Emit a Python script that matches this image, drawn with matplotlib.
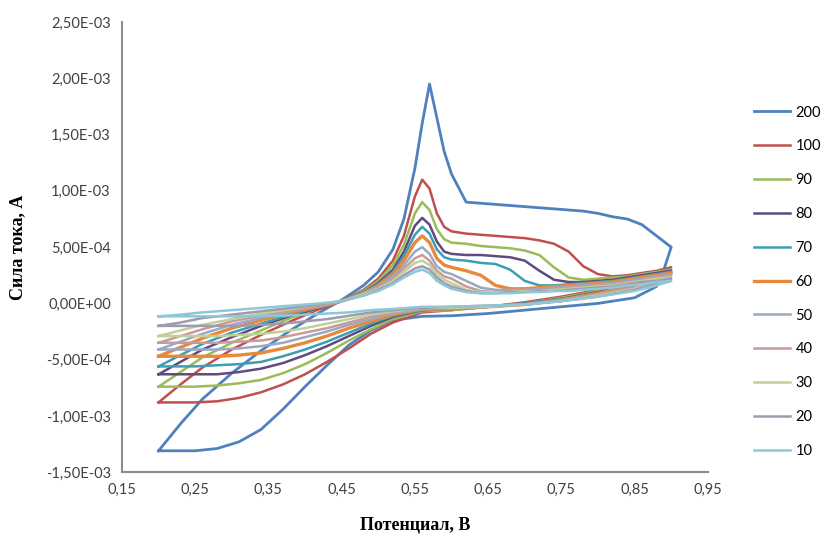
import numpy as np
import matplotlib
matplotlib.use("Agg")
from matplotlib import pyplot as plt
from matplotlib.ticker import FixedLocator, FuncFormatter

# scan rates (legend labels)
labels = ['200', '100', '90', '80', '70', '60', '50', '40', '30', '20', '10']
colors = ['#4F81BD', '#C0504D', '#9BBB59', '#5F4B80', '#3D9DB5', '#E8893A',
          '#98A9C4', '#C99A9A', '#BFD09A', '#A09AAE', '#8EC8D8']
widths = [2.0, 1.8, 1.8, 1.8, 1.8, 2.4, 1.8, 1.8, 1.8, 1.8, 1.8]

# forward sweep, potential in V, current in units of 1e-4 A
E_fwd = [0.20, 0.23, 0.26, 0.30, 0.34, 0.38, 0.42, 0.45, 0.48, 0.50, 0.52, 0.535,
         0.55, 0.56, 0.57, 0.58, 0.59, 0.60, 0.62, 0.64, 0.66, 0.68, 0.70, 0.72,
         0.74, 0.76, 0.78, 0.80, 0.82, 0.84, 0.86, 0.88, 0.90]
I_fwd = [
    [-13.1, -10.7, -8.5, -6.2, -4.2, -2.4, -0.8, 0.3, 1.6, 2.8, 4.8, 7.5, 12.0, 16.0, 19.5, 16.5, 13.5, 11.5, 9.0,
     8.9, 8.8, 8.7, 8.6, 8.5, 8.4, 8.3, 8.2, 8.0, 7.7, 7.5, 7.0, 6.0, 5.0],
    [-8.8, -7.2, -5.7, -4.1, -2.8, -1.6, -0.5, 0.2, 1.2, 2.2, 3.8, 6.0, 9.5, 11.0, 10.2, 8.0, 6.8, 6.4, 6.2,
     6.1, 6.0, 5.9, 5.8, 5.6, 5.3, 4.6, 3.3, 2.6, 2.4, 2.5, 2.7, 2.9, 3.2],
    [-7.4, -6.1, -4.8, -3.5, -2.4, -1.3, -0.4, 0.2, 1.1, 2.0, 3.4, 5.2, 8.0, 9.0, 8.3, 6.6, 5.7, 5.4, 5.3,
     5.1, 5.0, 4.9, 4.7, 4.3, 3.2, 2.3, 2.1, 2.2, 2.3, 2.4, 2.6, 2.8, 3.0],
    [-6.3, -5.2, -4.1, -3.0, -2.0, -1.1, -0.4, 0.2, 1.0, 1.8, 3.0, 4.6, 6.9, 7.6, 7.0, 5.5, 4.6, 4.4, 4.3,
     4.3, 4.2, 4.1, 3.8, 2.9, 2.1, 1.9, 1.9, 2.0, 2.1, 2.3, 2.5, 2.7, 2.9],
    [-5.6, -4.6, -3.6, -2.6, -1.8, -1.0, -0.3, 0.2, 1.0, 1.7, 2.8, 4.2, 6.1, 6.8, 6.2, 4.8, 4.1, 3.9, 3.8,
     3.6, 3.5, 3.0, 2.0, 1.6, 1.6, 1.7, 1.8, 1.9, 2.0, 2.2, 2.4, 2.6, 2.8],
    [-4.7, -3.9, -3.1, -2.2, -1.5, -0.8, -0.3, 0.2, 0.9, 1.6, 2.6, 3.8, 5.4, 6.0, 5.4, 4.0, 3.4, 3.2, 2.9,
     2.5, 1.6, 1.3, 1.3, 1.4, 1.5, 1.6, 1.7, 1.8, 1.9, 2.1, 2.3, 2.5, 2.7],
    [-4.1, -3.4, -2.7, -1.9, -1.3, -0.7, -0.2, 0.2, 0.9, 1.5, 2.4, 3.4, 4.6, 5.0, 4.4, 3.3, 2.8, 2.6, 2.0,
     1.4, 1.2, 1.2, 1.2, 1.3, 1.4, 1.5, 1.6, 1.7, 1.8, 2.0, 2.2, 2.4, 2.6],
    [-3.5, -2.9, -2.3, -1.6, -1.1, -0.6, -0.2, 0.2, 0.8, 1.4, 2.2, 3.1, 4.0, 4.3, 3.8, 2.9, 2.4, 2.2, 1.5,
     1.1, 1.0, 1.1, 1.1, 1.2, 1.3, 1.4, 1.5, 1.6, 1.7, 1.9, 2.1, 2.3, 2.5],
    [-2.9, -2.4, -1.9, -1.4, -0.9, -0.5, -0.1, 0.2, 0.8, 1.3, 2.0, 2.8, 3.6, 3.8, 3.4, 2.6, 2.1, 1.8, 1.2,
     1.0, 1.0, 1.0, 1.1, 1.1, 1.2, 1.3, 1.4, 1.5, 1.6, 1.8, 2.0, 2.2, 2.3],
    [-2.0, -1.7, -1.3, -1.0, -0.7, -0.4, -0.1, 0.2, 0.7, 1.2, 1.8, 2.5, 3.1, 3.3, 3.0, 2.3, 1.8, 1.5, 1.1,
     0.9, 0.9, 1.0, 1.0, 1.1, 1.1, 1.2, 1.3, 1.4, 1.5, 1.7, 1.9, 2.0, 2.2],
    [-1.15, -1.0, -0.8, -0.6, -0.4, -0.2, 0.0, 0.2, 0.7, 1.1, 1.7, 2.3, 2.8, 3.0, 2.7, 2.0, 1.6, 1.3, 1.0,
     0.9, 0.9, 0.9, 1.0, 1.0, 1.1, 1.1, 1.2, 1.3, 1.4, 1.6, 1.7, 1.9, 2.0],
]

# reverse sweep
E_rev = [0.90, 0.89, 0.88, 0.85, 0.80, 0.75, 0.70, 0.65, 0.60, 0.56, 0.52, 0.49,
         0.46, 0.43, 0.40, 0.37, 0.34, 0.31, 0.28, 0.25, 0.22, 0.20]
I_rev = [
    [5.0, 3.0, 1.5, 0.5, 0.0, -0.3, -0.6, -0.9, -1.1, -1.15, -1.5, -2.4, -3.7, -5.5, -7.4, -9.4, -11.2, -12.3, -12.9, -13.1, -13.1, -13.1],
    [3.2, 2.9, 2.6, 2.0, 1.2, 0.6, 0.1, -0.3, -0.6, -0.8, -1.7, -2.7, -4.0, -5.2, -6.3, -7.2, -7.9, -8.4, -8.7, -8.8, -8.8, -8.8],
    [3.0, 2.8, 2.5, 1.9, 1.1, 0.5, 0.0, -0.3, -0.6, -0.7, -1.4, -2.3, -3.3, -4.4, -5.4, -6.2, -6.8, -7.1, -7.3, -7.4, -7.4, -7.4],
    [2.9, 2.7, 2.4, 1.8, 1.0, 0.4, 0.0, -0.3, -0.5, -0.6, -1.2, -2.0, -2.9, -3.8, -4.6, -5.3, -5.8, -6.1, -6.3, -6.3, -6.3, -6.3],
    [2.8, 2.6, 2.3, 1.7, 0.9, 0.4, 0.0, -0.3, -0.5, -0.6, -1.1, -1.8, -2.6, -3.4, -4.1, -4.7, -5.2, -5.4, -5.5, -5.6, -5.6, -5.6],
    [2.7, 2.5, 2.2, 1.6, 0.9, 0.3, -0.1, -0.3, -0.5, -0.5, -1.0, -1.6, -2.2, -2.9, -3.5, -4.0, -4.4, -4.6, -4.7, -4.7, -4.7, -4.7],
    [2.6, 2.4, 2.1, 1.5, 0.8, 0.3, -0.1, -0.3, -0.4, -0.5, -0.9, -1.4, -1.9, -2.5, -3.0, -3.5, -3.8, -4.0, -4.1, -4.1, -4.1, -4.1],
    [2.5, 2.3, 2.0, 1.4, 0.8, 0.3, -0.1, -0.3, -0.4, -0.4, -0.8, -1.2, -1.7, -2.2, -2.6, -3.0, -3.3, -3.4, -3.5, -3.5, -3.5, -3.5],
    [2.3, 2.1, 1.9, 1.3, 0.7, 0.2, -0.1, -0.3, -0.4, -0.4, -0.7, -1.0, -1.4, -1.8, -2.2, -2.5, -2.7, -2.8, -2.9, -2.9, -2.9, -2.9],
    [2.2, 2.0, 1.8, 1.2, 0.6, 0.2, -0.1, -0.2, -0.3, -0.4, -0.6, -0.8, -1.1, -1.4, -1.6, -1.8, -1.9, -2.0, -2.0, -2.0, -2.0, -2.0],
    [2.0, 1.8, 1.6, 1.1, 0.6, 0.2, -0.1, -0.2, -0.3, -0.3, -0.5, -0.6, -0.8, -0.9, -1.0, -1.1, -1.1, -1.15, -1.15, -1.15, -1.15, -1.15],
]

x_ticks = [0.15, 0.25, 0.35, 0.45, 0.55, 0.65, 0.75, 0.85, 0.95]
y_ticks = [-1.5e-3, -1.0e-3, -5.0e-4, 0.0, 5.0e-4, 1.0e-3, 1.5e-3, 2.0e-3, 2.5e-3]

fig = plt.figure(figsize=(8.24, 5.39), dpi=100)
ax = fig.add_axes([0.148, 0.124, 0.711, 0.835])

for i in range(len(labels)):
    E = E_fwd + E_rev
    cur = np.array(I_fwd[i] + I_rev[i]) * 1e-4
    ax.plot(E, cur, color=colors[i], lw=widths[i], label=labels[i],
            solid_joinstyle='round')

ax.set_xlim(0.15, 0.95)
ax.set_ylim(-1.5e-3, 2.5e-3)
ax.xaxis.set_major_locator(FixedLocator(x_ticks))
ax.yaxis.set_major_locator(FixedLocator(y_ticks))
ax.xaxis.set_major_formatter(FuncFormatter(lambda v, p: f'{v:.2f}'.replace('.', ',')))
ax.yaxis.set_major_formatter(FuncFormatter(lambda v, p: f'{v:.2E}'.replace('.', ',')))
ax.tick_params(length=0, labelsize=10.5, labelcolor='#404040', pad=8)
for lab in ax.get_xticklabels() + ax.get_yticklabels():
    lab.set_family('Lato')

for s in ['top', 'right']:
    ax.spines[s].set_visible(False)
for s in ['left', 'bottom']:
    ax.spines[s].set_color('#8c8c8c')
    ax.spines[s].set_linewidth(1.5)

ax.set_xlabel('Потенциал, В', family='Liberation Serif', fontweight='bold',
              fontsize=13, labelpad=14)
ax.set_ylabel('Сила тока, А', family='Liberation Serif', fontweight='bold',
              fontsize=13, labelpad=4)
ax.yaxis.set_label_coords(-0.163, 0.5)

fig.legend(loc='upper left', bbox_to_anchor=(0.908, 0.815), frameon=False,
           prop={'family': 'Lato', 'size': 10.5}, handlelength=2.5,
           handletextpad=0.35, labelspacing=1.36, borderaxespad=0)

fig.savefig('out.png', dpi=100)
